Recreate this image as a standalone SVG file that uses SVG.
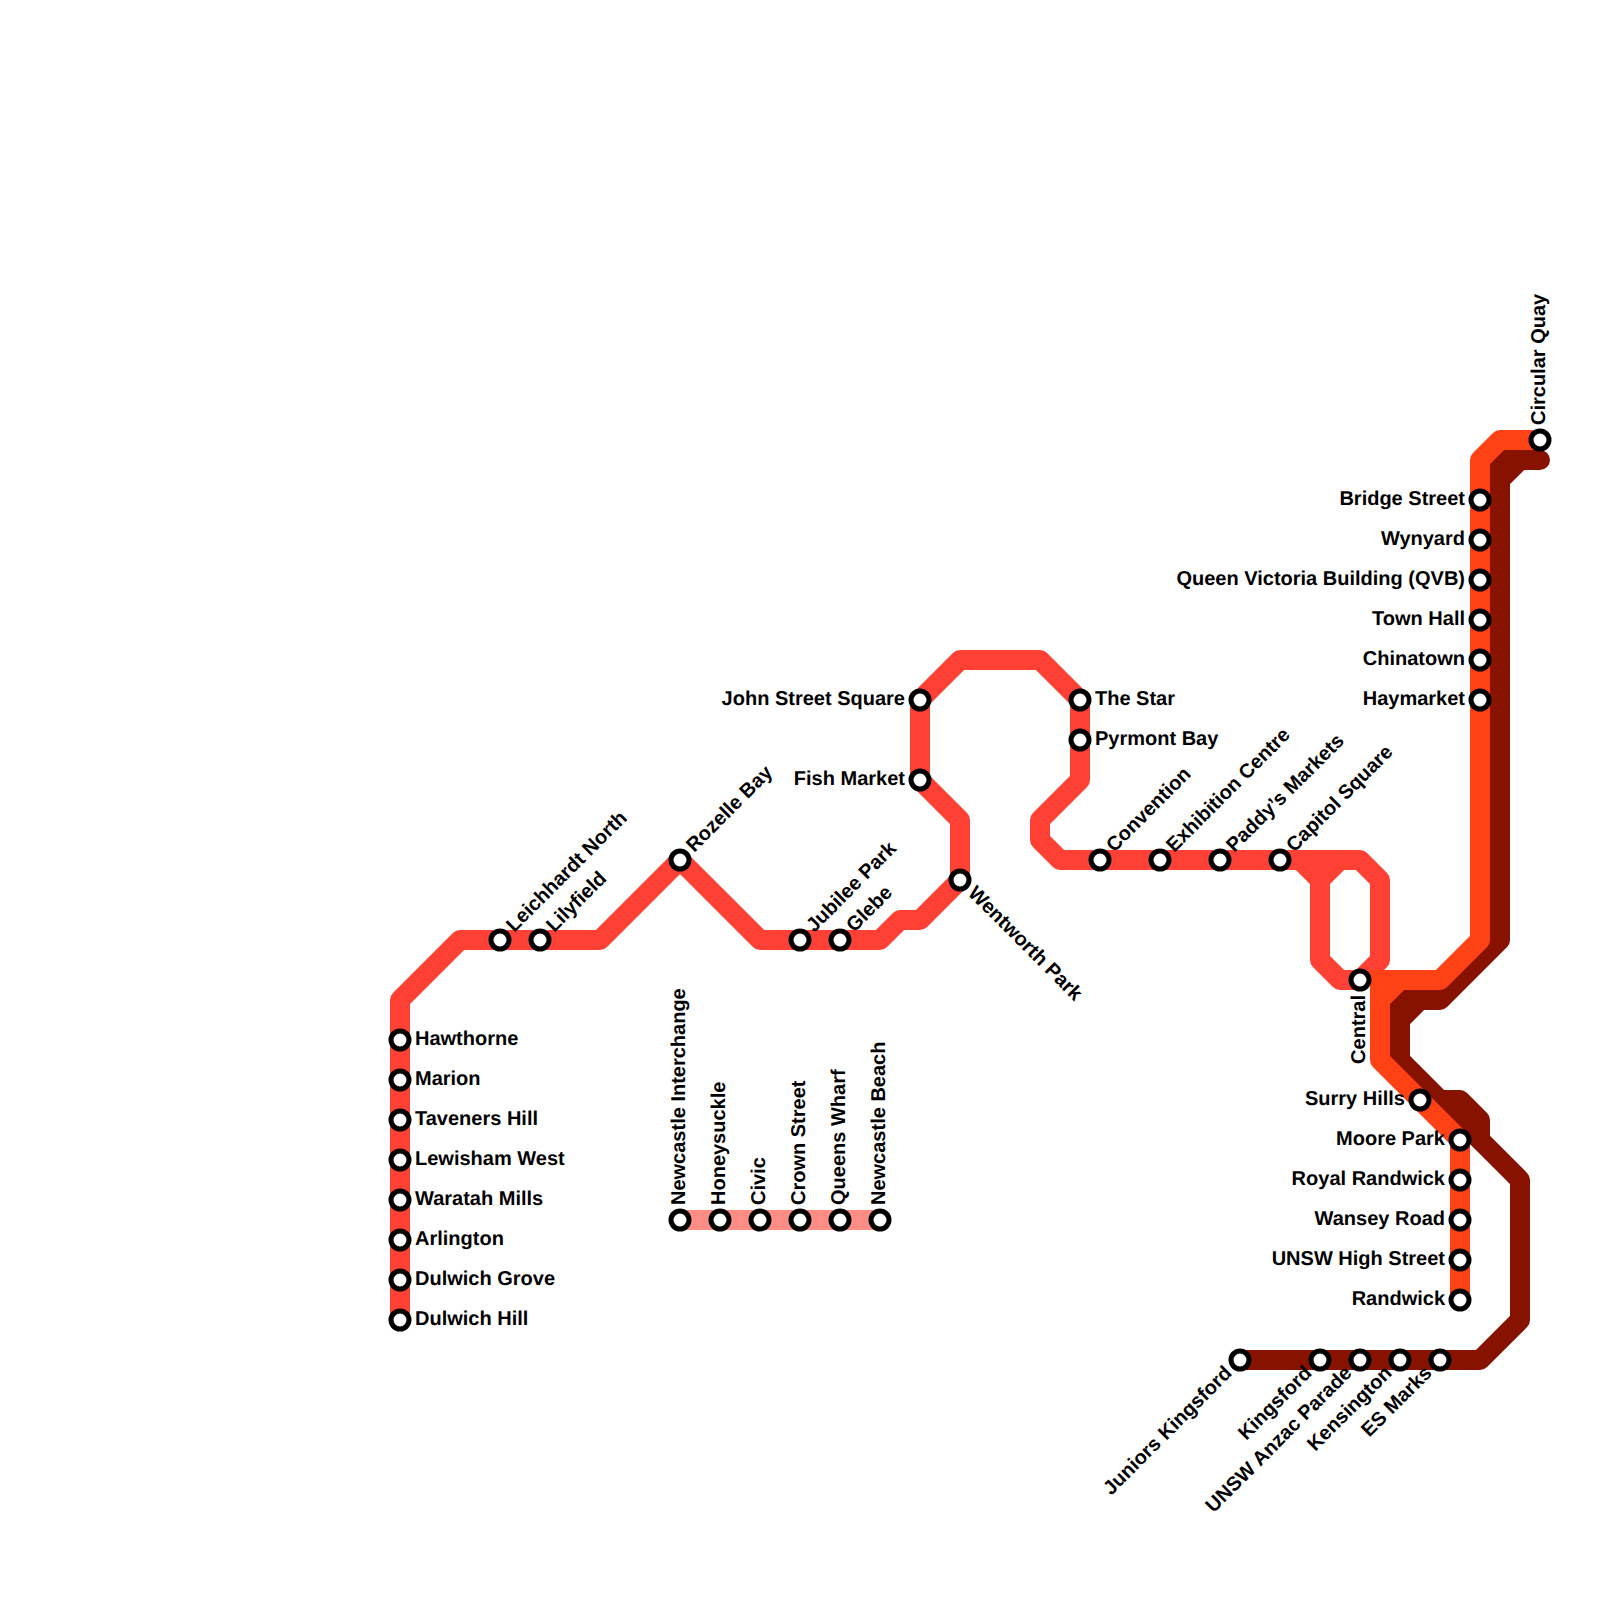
<svg xmlns="http://www.w3.org/2000/svg" width="1600" height="1600" viewBox="0 0 1600 1600">
<style>
.l{fill:none;stroke-width:20;stroke-linejoin:round;stroke-linecap:round}
.m{fill:none;stroke-width:20;stroke-linejoin:miter;stroke-linecap:butt}
.red{stroke:#ff4034}.org{stroke:#ff4215}.drk{stroke:#871200}.pnk{stroke:#ff8d85}
circle{fill:#fff;stroke:#000;stroke-width:5}
text{font-family:"Liberation Sans",Arial,sans-serif;font-weight:700;font-size:20px;fill:#000;text-rendering:geometricPrecision}
.e{text-anchor:end}
</style>
<rect width="1600" height="1600" fill="#fff"/>
<g id="connectors">
<path class="l pnk" d="M680 1220H880"/>
<path class="l drk" d="M1540 460H1520L1500 480V940L1440 1000H1420L1400 1020V1060L1520 1180V1320L1480 1360H1240"/>
<path class="m drk" d="M1520 460H1500V480"/>
<path class="m drk" d="M1420 1000H1400V1020"/>
<path class="l drk" d="M1420 1100H1460L1480 1120V1140"/>
<path class="l red" d="M400 1320V1000L460 940H600L680 860L760 940H880L900 920H920L960 880V820L920 780V700L960 660H1040L1080 700V780L1040 820V840L1060 860H1360L1380 880V960L1360 980"/>
<path class="l red" d="M1300 860L1320 880V960L1340 980H1360"/>
<path class="l red" d="M1340 860L1320 880"/>
<path class="m org" d="M1400 980H1380V1000"/>
<path class="l org" d="M1540 440H1500L1480 460V940L1440 980H1400L1380 1000V1060L1460 1140V1300"/>
</g>
<g id="hawthorne"><circle cx="400" cy="1040" r="9"/><text transform="translate(400 1040)" x="15" y="5">Hawthorne</text></g>
<g id="marion"><circle cx="400" cy="1080" r="9"/><text transform="translate(400 1080)" x="15" y="5">Marion</text></g>
<g id="taveners-hill"><circle cx="400" cy="1120" r="9"/><text transform="translate(400 1120)" x="15" y="5">Taveners Hill</text></g>
<g id="lewisham-west"><circle cx="400" cy="1160" r="9"/><text transform="translate(400 1160)" x="15" y="5">Lewisham West</text></g>
<g id="waratah-mills"><circle cx="400" cy="1200" r="9"/><text transform="translate(400 1200)" x="15" y="5">Waratah Mills</text></g>
<g id="arlington"><circle cx="400" cy="1240" r="9"/><text transform="translate(400 1240)" x="15" y="5">Arlington</text></g>
<g id="dulwich-grove"><circle cx="400" cy="1280" r="9"/><text transform="translate(400 1280)" x="15" y="5">Dulwich Grove</text></g>
<g id="dulwich-hill"><circle cx="400" cy="1320" r="9"/><text transform="translate(400 1320)" x="15" y="5">Dulwich Hill</text></g>
<g id="leichhardt-north"><circle cx="500" cy="940" r="9"/><text transform="translate(500 940) rotate(-45)" x="15" y="5">Leichhardt North</text></g>
<g id="lilyfield"><circle cx="540" cy="940" r="9"/><text transform="translate(540 940) rotate(-45)" x="15" y="5">Lilyfield</text></g>
<g id="rozelle-bay"><circle cx="680" cy="860" r="9"/><text transform="translate(680 860) rotate(-45)" x="15" y="5">Rozelle Bay</text></g>
<g id="jubilee-park"><circle cx="800" cy="940" r="9"/><text transform="translate(800 940) rotate(-45)" x="15" y="5">Jubilee Park</text></g>
<g id="glebe"><circle cx="840" cy="940" r="9"/><text transform="translate(840 940) rotate(-45)" x="15" y="5">Glebe</text></g>
<g id="wentworth-park"><circle cx="960" cy="880" r="9"/><text transform="translate(960 880) rotate(45)" x="15" y="5">Wentworth Park</text></g>
<g id="fish-market"><circle cx="920" cy="780" r="9"/><text class="e" transform="translate(920 780)" x="-15" y="5">Fish Market</text></g>
<g id="john-street-square"><circle cx="920" cy="700" r="9"/><text class="e" transform="translate(920 700)" x="-15" y="5">John Street Square</text></g>
<g id="the-star"><circle cx="1080" cy="700" r="9"/><text transform="translate(1080 700)" x="15" y="5">The Star</text></g>
<g id="pyrmont-bay"><circle cx="1080" cy="740" r="9"/><text transform="translate(1080 740)" x="15" y="5">Pyrmont Bay</text></g>
<g id="convention"><circle cx="1100" cy="860" r="9"/><text transform="translate(1100 860) rotate(-45)" x="15" y="5">Convention</text></g>
<g id="exhibition-centre"><circle cx="1160" cy="860" r="9"/><text transform="translate(1160 860) rotate(-45)" x="15" y="5">Exhibition Centre</text></g>
<g id="paddys-markets"><circle cx="1220" cy="860" r="9"/><text transform="translate(1220 860) rotate(-45)" x="15" y="5">Paddy’s Markets</text></g>
<g id="capitol-square"><circle cx="1280" cy="860" r="9"/><text transform="translate(1280 860) rotate(-45)" x="15" y="5">Capitol Square</text></g>
<g id="central"><circle cx="1360" cy="980" r="9"/><text class="e" transform="translate(1360 980) rotate(-90)" x="-15" y="5">Central</text></g>
<g id="newcastle-interchange"><circle cx="680" cy="1220" r="9"/><text transform="translate(680 1220) rotate(-90)" x="15" y="5">Newcastle Interchange</text></g>
<g id="honeysuckle"><circle cx="720" cy="1220" r="9"/><text transform="translate(720 1220) rotate(-90)" x="15" y="5">Honeysuckle</text></g>
<g id="civic"><circle cx="760" cy="1220" r="9"/><text transform="translate(760 1220) rotate(-90)" x="15" y="5">Civic</text></g>
<g id="crown-street"><circle cx="800" cy="1220" r="9"/><text transform="translate(800 1220) rotate(-90)" x="15" y="5">Crown Street</text></g>
<g id="queens-wharf"><circle cx="840" cy="1220" r="9"/><text transform="translate(840 1220) rotate(-90)" x="15" y="5">Queens Wharf</text></g>
<g id="newcastle-beach"><circle cx="880" cy="1220" r="9"/><text transform="translate(880 1220) rotate(-90)" x="15" y="5">Newcastle Beach</text></g>
<g id="circular-quay"><circle cx="1540" cy="440" r="9"/><text transform="translate(1540 440) rotate(-90)" x="15" y="5">Circular Quay</text></g>
<g id="bridge-street"><circle cx="1480" cy="500" r="9"/><text class="e" transform="translate(1480 500)" x="-15" y="5">Bridge Street</text></g>
<g id="wynyard"><circle cx="1480" cy="540" r="9"/><text class="e" transform="translate(1480 540)" x="-15" y="5">Wynyard</text></g>
<g id="qvb"><circle cx="1480" cy="580" r="9"/><text class="e" transform="translate(1480 580)" x="-15" y="5">Queen Victoria Building (QVB)</text></g>
<g id="town-hall"><circle cx="1480" cy="620" r="9"/><text class="e" transform="translate(1480 620)" x="-15" y="5">Town Hall</text></g>
<g id="chinatown"><circle cx="1480" cy="660" r="9"/><text class="e" transform="translate(1480 660)" x="-15" y="5">Chinatown</text></g>
<g id="haymarket"><circle cx="1480" cy="700" r="9"/><text class="e" transform="translate(1480 700)" x="-15" y="5">Haymarket</text></g>
<g id="surry-hills"><circle cx="1420" cy="1100" r="9"/><text class="e" transform="translate(1420 1100)" x="-15" y="5">Surry Hills</text></g>
<g id="moore-park"><circle cx="1460" cy="1140" r="9"/><text class="e" transform="translate(1460 1140)" x="-15" y="5">Moore Park</text></g>
<g id="royal-randwick"><circle cx="1460" cy="1180" r="9"/><text class="e" transform="translate(1460 1180)" x="-15" y="5">Royal Randwick</text></g>
<g id="wansey-road"><circle cx="1460" cy="1220" r="9"/><text class="e" transform="translate(1460 1220)" x="-15" y="5">Wansey Road</text></g>
<g id="unsw-high-street"><circle cx="1460" cy="1260" r="9"/><text class="e" transform="translate(1460 1260)" x="-15" y="5">UNSW High Street</text></g>
<g id="randwick"><circle cx="1460" cy="1300" r="9"/><text class="e" transform="translate(1460 1300)" x="-15" y="5">Randwick</text></g>
<g id="juniors-kingsford"><circle cx="1240" cy="1360" r="9"/><text class="e" transform="translate(1240 1360) rotate(-45)" x="-15" y="5">Juniors Kingsford</text></g>
<g id="kingsford"><circle cx="1320" cy="1360" r="9"/><text class="e" transform="translate(1320 1360) rotate(-45)" x="-15" y="5">Kingsford</text></g>
<g id="unsw-anzac-parade"><circle cx="1360" cy="1360" r="9"/><text class="e" transform="translate(1360 1360) rotate(-45)" x="-15" y="5">UNSW Anzac Parade</text></g>
<g id="kensington"><circle cx="1400" cy="1360" r="9"/><text class="e" transform="translate(1400 1360) rotate(-45)" x="-15" y="5">Kensington</text></g>
<g id="es-marks"><circle cx="1440" cy="1360" r="9"/><text class="e" transform="translate(1440 1360) rotate(-45)" x="-15" y="5">ES Marks</text></g>
</svg>
